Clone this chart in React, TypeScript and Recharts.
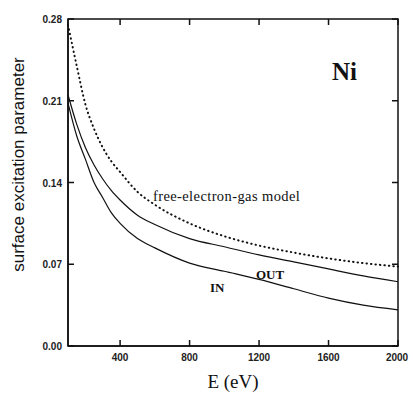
import { LineChart, Line, XAxis, YAxis, ReferenceDot } from "recharts";

const energies = [100, 150, 200, 250, 300, 350, 400, 500, 600, 800, 1000, 1200, 1400, 1600, 1800, 2000];
const freeElectronGas = [0.275, 0.24, 0.207, 0.186, 0.17, 0.158, 0.149, 0.132, 0.121, 0.105, 0.094, 0.086, 0.08, 0.075, 0.071, 0.068];
const outValues = [0.215, 0.19, 0.17, 0.155, 0.143, 0.133, 0.125, 0.112, 0.104, 0.092, 0.085, 0.078, 0.072, 0.066, 0.06, 0.055];
const inValues = [0.208, 0.18, 0.16, 0.14, 0.127, 0.114, 0.105, 0.092, 0.084, 0.071, 0.064, 0.057, 0.049, 0.041, 0.035, 0.031];

const xTicks = [400, 800, 1200, 1600, 2000];
const yTicks = [0, 0.07, 0.14, 0.21, 0.28];

const xDomain = [100, 2000];
const yDomain = [0, 0.28];

const data = energies.map((e, i) => ({
  e,
  feg: freeElectronGas[i],
  out: outValues[i],
  in: inValues[i],
}));

const W = 413;
const H = 395;
const margin = { top: 19, right: 15, left: 0, bottom: 0 };
const yAxisWidth = 68;
const xAxisHeight = 49;

// plot box, same as what recharts lays out from the margins above
const box = {
  left: margin.left + yAxisWidth,
  right: W - margin.right,
  top: margin.top,
  bottom: H - margin.bottom - xAxisHeight,
};
const sx = (v: number) =>
  box.left + ((v - xDomain[0]) / (xDomain[1] - xDomain[0])) * (box.right - box.left);
const sy = (v: number) =>
  box.bottom - ((v - yDomain[0]) / (yDomain[1] - yDomain[0])) * (box.bottom - box.top);

const serif = "'Liberation Serif', 'DejaVu Serif', serif";
const sans = "'Liberation Sans', Arial, sans-serif";

const tickFont = { fontFamily: sans, fontWeight: 700, fontSize: 10, fill: "#222" };
const TICK = 6;

const BottomTick = (p: any) => (
  <text x={p.x} y={p.y + 15} textAnchor="middle" {...tickFont}>
    {p.payload.value}
  </text>
);

const LeftTick = (p: any) => (
  <text x={p.x - 6} y={p.y + 4} textAnchor="end" {...tickFont}>
    {p.payload.value.toFixed(2)}
  </text>
);

const YTitle = (props: any) => {
  const vb = props.viewBox || {};
  const cy = vb.y + vb.height / 2 - 18;
  return (
    <text
      x={18}
      y={cy}
      transform={`rotate(-90, 18, ${cy})`}
      textAnchor="middle"
      dominantBaseline="central"
      fontFamily={sans}
      fontSize={17}
      fill="#111"
    >
      surface excitation parameter
    </text>
  );
};

const textLabel =
  (text: string, size: number, bold: boolean, spacing = 0) =>
  (props: any) => {
    const vb = props.viewBox || {};
    return (
      <text
        x={vb.x}
        y={vb.y}
        fontFamily={serif}
        fontSize={size}
        fontWeight={bold ? 700 : 400}
        letterSpacing={spacing}
        fill="#111"
      >
        {text}
      </text>
    );
  };

// box frame with inward ticks on all four sides
const Frame = () => (
  <svg
    width={W}
    height={H}
    style={{ position: "absolute", left: 0, top: 0, pointerEvents: "none" }}
  >
    <g stroke="#111" strokeWidth={1.5} fill="none">
      <rect
        x={box.left}
        y={box.top}
        width={box.right - box.left}
        height={box.bottom - box.top}
      />
      {xTicks.map((t) => (
        <g key={`x${t}`}>
          <line x1={sx(t)} x2={sx(t)} y1={box.bottom} y2={box.bottom - TICK} />
          <line x1={sx(t)} x2={sx(t)} y1={box.top} y2={box.top + TICK} />
        </g>
      ))}
      {yTicks.map((t) => (
        <g key={`y${t}`}>
          <line x1={box.left} x2={box.left + TICK} y1={sy(t)} y2={sy(t)} />
          <line x1={box.right} x2={box.right - TICK} y1={sy(t)} y2={sy(t)} />
        </g>
      ))}
    </g>
  </svg>
);

export default function App() {
  return (
    <div style={{ position: "absolute", left: 0, top: 0, width: W, height: H, background: "#fff" }}>
      <LineChart width={W} height={H} data={data} margin={margin}>
        <XAxis
          dataKey="e"
          type="number"
          domain={xDomain}
          ticks={xTicks}
          height={xAxisHeight}
          stroke="#111"
          strokeWidth={1.5}
          tickLine={false}
          tickSize={0}
          tickMargin={0}
          tick={BottomTick}
          label={{
            value: "E (eV)",
            position: "insideBottom",
            offset: 7,
            style: { fontFamily: serif, fontSize: 19, fill: "#111" },
          }}
        />
        <YAxis
          type="number"
          domain={yDomain}
          ticks={yTicks}
          width={yAxisWidth}
          stroke="#111"
          strokeWidth={1.5}
          tickLine={false}
          tickSize={0}
          tickMargin={0}
          tick={LeftTick}
          label={<YTitle />}
        />
        <Line
          dataKey="feg"
          type="monotone"
          stroke="#111"
          strokeWidth={2}
          strokeDasharray="0.5 4"
          strokeLinecap="round"
          dot={false}
          isAnimationActive={false}
        />
        <Line
          dataKey="out"
          type="monotone"
          stroke="#111"
          strokeWidth={1.2}
          dot={false}
          isAnimationActive={false}
        />
        <Line
          dataKey="in"
          type="monotone"
          stroke="#111"
          strokeWidth={1.2}
          dot={false}
          isAnimationActive={false}
        />
        <ReferenceDot x={1620} y={0.228} r={0} stroke="none" label={textLabel("Ni", 25, true)} />
        <ReferenceDot x={589} y={0.124} r={0} stroke="none" label={textLabel("free-electron-gas model", 14.5, false, 0.4)} />
        <ReferenceDot x={1182} y={0.057} r={0} stroke="none" label={textLabel("OUT", 13, true)} />
        <ReferenceDot x={917} y={0.046} r={0} stroke="none" label={textLabel("IN", 13, true)} />
      </LineChart>
      <Frame />
    </div>
  );
}
